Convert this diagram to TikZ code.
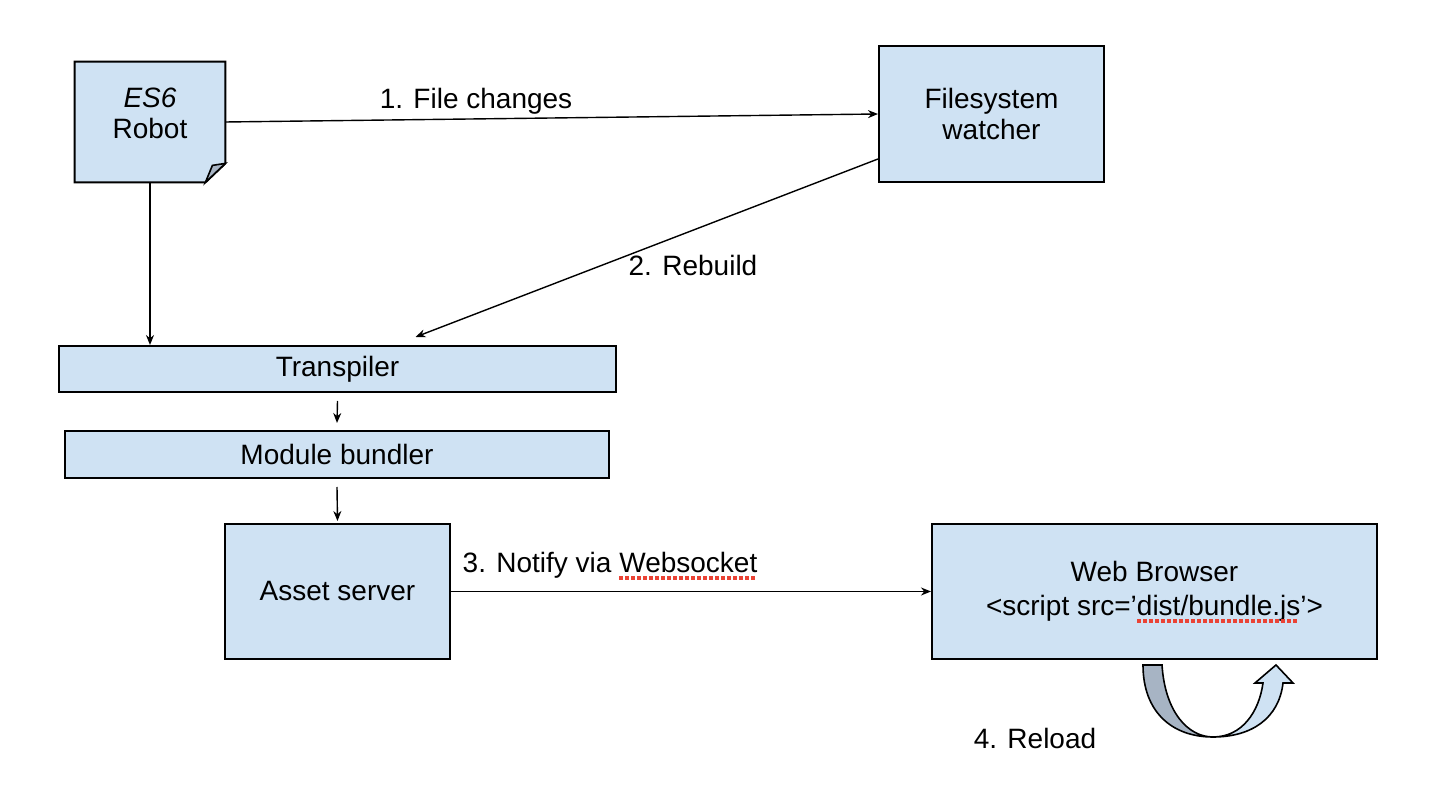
\documentclass[tikz,border=0pt]{standalone}
\usepackage{fontspec}
\setmainfont{Liberation Sans}
\usepackage{tikz}
\usetikzlibrary{arrows.meta,backgrounds,calc,positioning}
\definecolor{boxblue}{HTML}{CFE2F3}
\definecolor{foldgray}{HTML}{A7B4C4}
\definecolor{spellred}{HTML}{EA4335}

\begin{document}
\begin{tikzpicture}[x=0.5pt,y=-0.5pt,font=\fontsize{14}{15.5}\selectfont,
  box/.style={draw,fill=boxblue,line width=1pt,align=center,inner sep=0pt},
  arr/.style={-{Stealth[length=5pt,width=4pt]},line width=0.7pt},
  spell/.style={spellred,line width=1.6pt,dash pattern=on 1.8pt off 1.2pt}]
\useasboundingbox (0,0) rectangle (1436,790);

\node[minimum width=75pt,minimum height=60pt] (robot) at (150,122) {};
\node[align=center,yshift=4.5pt] (robotxt) at (robot) {\textit{ES6}\\Robot};
\node[box,minimum width=112.5pt,minimum height=68pt] (watcher) at (991.5,114) {Filesystem\\watcher};
\node[box,minimum width=278.5pt,minimum height=23pt] (transpiler) at (337.5,369) {\raisebox{-1.5pt}{Transpiler}};
\node[box,minimum width=272pt,minimum height=23.5pt] (bundler) at (337,454.5) {Module bundler};
\node[box,minimum width=112.5pt,minimum height=67.5pt] (asset) at (337.5,591.5) {Asset server};
\node[box,minimum width=222.5pt,minimum height=67.5pt] (browser) at (1154.5,591.5) {Web Browser\\[1.5pt]\textless script src=’dist/bundle.js’\textgreater};

% document with folded corner
\begin{scope}[on background layer]
\draw[fill=boxblue,line width=1pt] (robot.north west) -- (robot.north east) -- ($(robot.south east)+(0,-19)$)
  -- ($(robot.south east)+(-20,0)$) -- (robot.south west) -- cycle;
\draw[fill=foldgray,line width=0.8pt] ($(robot.south east)+(-20,0)$) -- ($(robot.south east)+(-13,-17)$)
  -- ($(robot.south east)+(0,-19)$) -- cycle;
\end{scope}

\draw[arr] (robot.east) -- (watcher.west);
\draw[arr] ($(watcher.south west)+(0,-24)$) -- ($(transpiler.north)+(78,-8)$);
\draw[arr] (robot.south) -- (robot.south |- transpiler.north);
\draw[arr] ([yshift=-4pt]transpiler.south) -- ([yshift=3.5pt]bundler.north);
\draw[arr] ([yshift=-4pt]bundler.south) -- ([yshift=1pt]asset.north);
\draw[arr] (asset.east) -- (browser.west);

\node (lab1) at (476,101) {1. File changes};
\node (lab2) at (693,265) {2. Rebuild};
\node (lab3) at (610,565) {3. Notify via Websocket};
\node (lab4) at (1035,738) {4. Reload};

\draw[spell] (619,578) -- (755,578);
\draw[spell] (1137,621) -- (1297,621);

% reload u-turn
\draw[fill=foldgray,line width=0.8pt] (1143,665) -- (1162,665) .. controls (1165,712) and (1188,737) .. (1213,737)
  .. controls (1172,737) and (1143,712) .. (1143,665) -- cycle;
\draw[fill=boxblue,line width=0.8pt] (1213,737) .. controls (1242,737) and (1259,712) .. (1263,683)
  -- (1255,683) -- (1276,665) -- (1293,683) -- (1283,683) .. controls (1279,718) and (1252,737) .. (1213,737) -- cycle;
\end{tikzpicture}
\end{document}
